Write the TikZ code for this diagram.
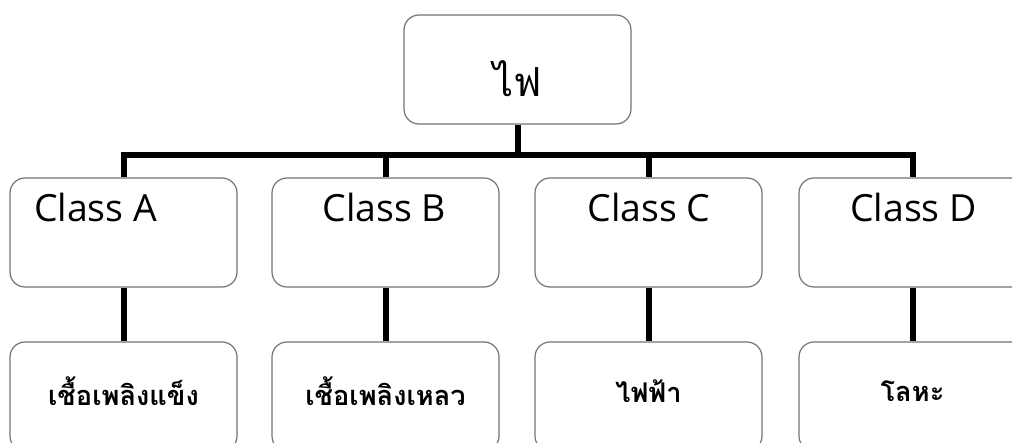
\documentclass[tikz,border=0pt]{standalone}
\usepackage{fontspec}
\setmainfont{Open Sans}
\newfontfamily\thaifont[Script=Thai]{Loma}
\begin{document}
\begin{tikzpicture}[x=1pt,y=-1pt,
  box/.style={draw=black!55, rounded corners=15pt, line width=1.2pt, minimum width=227pt, minimum height=109pt, inner sep=0pt, fill=white},
  conn/.style={line width=6pt, black},
  ctext/.style={font=\fontsize{37.4}{40}\selectfont, inner sep=0pt, anchor=base},
  ttext/.style={font=\thaifont\bfseries\fontsize{27.2}{30}\selectfont, inner sep=0pt}]
\useasboundingbox (0,0) rectangle (1012,443);
\clip (0,0) rectangle (1012,443);
\node[box] (top) at (517.5,69.5) {};
\node[font=\thaifont\fontsize{40}{44}\selectfont, inner sep=0pt] (toptext) at (517.5,79) {ไฟ};
\node[box] (ca) at (123.5,232.5) {};
\node[box] (cb) at (385.5,232.5) {};
\node[box] (cc) at (648.5,232.5) {};
\node[box] (cd) at (912.5,232.5) {};
\node[box] (la) at (123.5,396.5) {};
\node[box] (lb) at (385.5,396.5) {};
\node[box] (lc) at (648.5,396.5) {};
\node[box] (ld) at (912.5,396.5) {};
\coordinate (bar) at (517.5,155);
\node[ctext] (tA) at (95.5,221.7) {Class A};
\node[ctext] (tB) at (384.5,221.7) {Class B};
\node[ctext] (tC) at (649,221.7) {Class C};
\node[ctext] (tD) at (913.5,221.7) {Class D};
\node[ttext] (xA) at (123.5,391) {เชื้อเพลิงแข็ง};
\node[ttext] (xB) at (385.5,391) {เชื้อเพลิงเหลว};
\node[ttext] (xC) at (648.5,391) {ไฟฟ้า};
\node[ttext] (xD) at (912.5,391) {โลหะ};
\draw[conn] (top.south) -- (top.south|-bar);
\draw[conn, line join=miter] (ca.north) -- (ca.north|-bar) -- (cd.north|-bar) -- (cd.north);
\draw[conn] (cb.north|-bar) -- (cb.north);
\draw[conn] (cc.north|-bar) -- (cc.north);
\draw[conn] (ca.south) -- (la.north);
\draw[conn] (cb.south) -- (lb.north);
\draw[conn] (cc.south) -- (lc.north);
\draw[conn] (cd.south) -- (ld.north);
\end{tikzpicture}
\end{document}
